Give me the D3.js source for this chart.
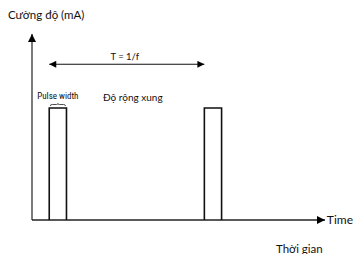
<!DOCTYPE html>
<html>
<head>
<meta charset="utf-8">
<script src="https://cdn.jsdelivr.net/npm/d3@7"></script>
<style>
  body { margin: 0; background: #fff; }
  text { font-family: Lato, "Noto Sans", sans-serif; fill: #111; }
  .narrow { font-family: "Liberation Sans Narrow", "Roboto Condensed", Roboto, sans-serif; }
</style>
</head>
<body>
<div id="viz"></div>
<script>
var width = 354
var height = 254

// pulse train data (time units, amplitude)
var pulseStarts = [1, 10];
var pulseWidth = 1;
var pulseHeight = [1, 1];
var period = 9;
var labels = ["Cường độ (mA)", "Time", "Thời gian", "T = 1/f", "Pulse width", "Độ rộng xung"];

var svg = d3.select("#viz")
    .append("svg")
    .attr("width", width)
    .attr("height", height);

var x = d3.scaleLinear().domain([0, 17]).range([32, 325]);
var y = d3.scaleLinear().domain([0, 1]).range([220, 108]);

var defs = svg.append("defs");
defs.append("marker")
    .attr("id", "arrow")
    .attr("viewBox", "0 0 10 10")
    .attr("refX", 10).attr("refY", 5)
    .attr("markerWidth", 9).attr("markerHeight", 7)
    .attr("markerUnits", "userSpaceOnUse")
    .attr("orient", "auto-start-reverse")
    .append("path")
    .attr("d", "M0,0 L10,5 L0,10 Z")
    .attr("fill", "#000");
defs.append("marker")
    .attr("id", "arrowBig")
    .attr("viewBox", "0 0 10 10")
    .attr("refX", 10).attr("refY", 5)
    .attr("markerWidth", 13).attr("markerHeight", 8)
    .attr("markerUnits", "userSpaceOnUse")
    .attr("orient", "auto-start-reverse")
    .append("path")
    .attr("d", "M0,0 L10,5 L0,10 Z")
    .attr("fill", "#000");

// axes
svg.append("line")
    .attr("x1", x(0)).attr("y1", y(0))
    .attr("x2", x(0)).attr("y2", y(1.66))
    .attr("stroke", "#444").attr("stroke-width", 1.4)
    .attr("marker-end", "url(#arrowBig)");
svg.append("line")
    .attr("x1", x(0)).attr("y1", y(0))
    .attr("x2", x(17)).attr("y2", y(0))
    .attr("stroke", "#222").attr("stroke-width", 1.4)
    .attr("marker-end", "url(#arrowBig)");

// pulses
var line = d3.line().x(d => x(d[0])).y(d => y(d[1]));
pulseStarts.forEach(function (s, i) {
    var pts = [[s, 0], [s, pulseHeight[i]], [s + pulseWidth, pulseHeight[i]], [s + pulseWidth, 0]];
    svg.append("path")
        .attr("d", line(pts))
        .attr("fill", "none")
        .attr("stroke", "#111")
        .attr("stroke-width", 1.6);
});

// period arrow
var yT = y(1.39);
svg.append("line")
    .attr("x1", x(pulseStarts[0])).attr("y1", yT)
    .attr("x2", x(pulseStarts[0] + period)).attr("y2", yT)
    .attr("stroke", "#111").attr("stroke-width", 1.1)
    .attr("marker-start", "url(#arrow)")
    .attr("marker-end", "url(#arrow)");
svg.append("text")
    .attr("x", x(pulseStarts[0] + period / 2) - 2).attr("y", yT - 4)
    .attr("text-anchor", "middle")
    .attr("font-size", 9.5)
    .text(labels[3]);

// pulse width brace
var b0 = x(pulseStarts[0]) + 1, b1 = x(pulseStarts[0] + pulseWidth) - 1, bm = (b0 + b1) / 2, by = y(1) - 3.5;
svg.append("path")
    .attr("d", "M" + b0 + "," + (by + 1.5) + " Q" + b0 + "," + by + " " + (b0 + 2) + "," + by +
        " L" + (bm - 1.5) + "," + by + " Q" + bm + "," + by + " " + bm + "," + (by - 1) +
        " Q" + bm + "," + by + " " + (bm + 1.5) + "," + by +
        " L" + (b1 - 2) + "," + by + " Q" + b1 + "," + by + " " + b1 + "," + (by + 1.5))
    .attr("fill", "none").attr("stroke", "#222").attr("stroke-width", 0.8);
svg.append("text")
    .attr("class", "narrow")
    .attr("x", bm).attr("y", 99)
    .attr("text-anchor", "middle")
    .attr("font-size", 9)
    .text(labels[4]);
svg.append("text")
    .attr("x", 103).attr("y", 101)
    .attr("font-size", 10)
    .text(labels[5]);

// axis labels
svg.append("text")
    .attr("x", 8).attr("y", 19)
    .attr("font-size", 11.5)
    .text(labels[0]);
svg.append("text")
    .attr("x", 353).attr("y", 224)
    .attr("text-anchor", "end")
    .attr("font-size", 12)
    .text(labels[1]);
svg.append("text")
    .attr("x", 276).attr("y", 253)
    .attr("font-size", 11.5)
    .text(labels[2]);
</script>
</body>
</html>
